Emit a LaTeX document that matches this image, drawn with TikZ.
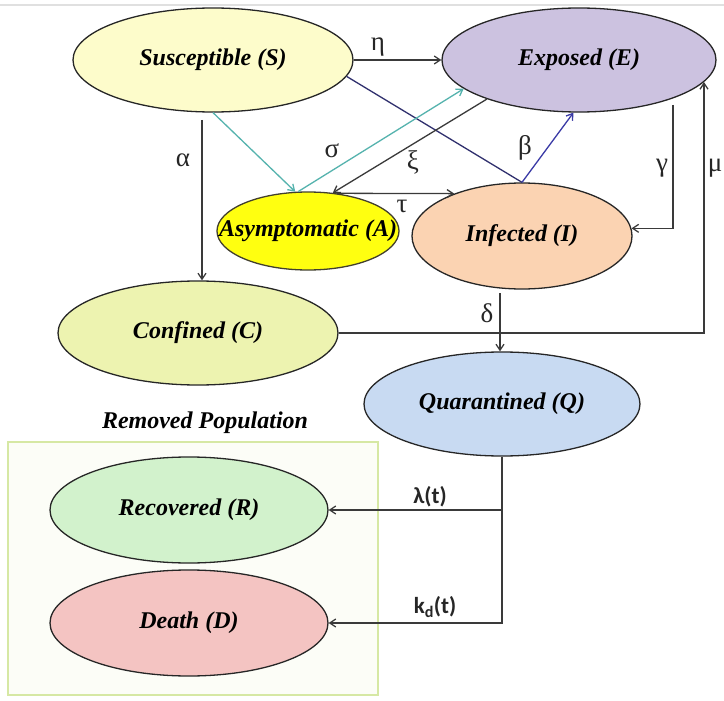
\documentclass[tikz,border=0pt]{standalone}
\usepackage{fontspec}
\setmainfont{Liberation Serif}
\newfontfamily\calfont{Carlito}
\usetikzlibrary{shapes.geometric,arrows.meta}
\definecolor{cS}{HTML}{FDFCCB}
\definecolor{cE}{HTML}{CCC2E0}
\definecolor{cA}{HTML}{FFFF10}
\definecolor{cI}{HTML}{FBD3B2}
\definecolor{cC}{HTML}{EDF3B0}
\definecolor{cQ}{HTML}{C8DAF2}
\definecolor{cR}{HTML}{D2F2CC}
\definecolor{cD}{HTML}{F4C4C2}
\definecolor{boxgreen}{HTML}{D6E8A4}
\definecolor{boxfill}{HTML}{FCFDF7}
\definecolor{navyline}{HTML}{30306E}
\definecolor{blueline}{HTML}{3A3AA6}
\definecolor{tealline}{HTML}{55B3AE}
\definecolor{lineblack}{HTML}{3A3A3A}
\begin{document}
\begin{tikzpicture}[x=1pt,y=-1pt,
  comp/.style={ellipse, draw=black!85, line width=1.3pt, inner sep=0pt,
    font=\fontsize{24}{26}\selectfont\bfseries\itshape},
  arr/.style={line width=1.3pt, draw=lineblack, -{Straight Barb[length=6pt,width=8pt]}},
  lbl/.style={font=\fontsize{27}{29}\selectfont, inner sep=0pt, text=black!85},
  clbl/.style={font=\calfont\fontsize{23}{26}\selectfont\bfseries, inner sep=0pt, text=black!85}]
\useasboundingbox (0,0) rectangle (724,701);
\fill[white] (0,0) rectangle (724,701);
\draw[black!12, line width=1.2pt] (0,5) -- (724,5);
% removed population box
\node (box) [draw=boxgreen, fill=boxfill, line width=2.5pt, minimum width=370, minimum height=253, inner sep=0pt] at (193,568.5) {};
\node (rem) [font=\fontsize{24}{26}\selectfont\bfseries\itshape, inner sep=0pt] at (205,423) {Removed Population};
% compartments
\node[comp, fill=cS, minimum width=280, minimum height=104] (S) at (213,60) {Susceptible (S)};
\node[comp, fill=cE, minimum width=274, minimum height=104] (E) at (579,60) {Exposed (E)};
\node[comp, fill=cA, draw=black!70!olive, minimum width=182, minimum height=78] (A) at (308,231) {\makebox[0pt]{Asymptomatic (A)}};
\node[comp, fill=cI, minimum width=220, minimum height=106] (I) at (522,236) {Infected (I)};
\node[comp, fill=cC, minimum width=280, minimum height=104] (C) at (198,333) {Confined (C)};
\node[comp, fill=cQ, minimum width=276, minimum height=104] (Q) at (502,404) {Quarantined (Q)};
\node[comp, fill=cR, minimum width=278, minimum height=106] (R) at (189,510) {Recovered (R)};
\node[comp, fill=cD, minimum width=278, minimum height=106] (D) at (189,623) {Death (D)};
% connectors
\draw[arr] (S.east) -- (E.west);
\draw[line width=1.3pt, navyline] (S.-7) -- (I.north);
\draw[arr, draw=blueline] (I.north) -- (E.-96);
\draw[arr, draw=tealline] (S.south) -- (A.108);
\draw[arr, draw=tealline] (A.104) -- (E.194);
\draw[arr] (E.203) -- (A.57);
\draw[arr] (A.53) -- (I.148);
\coordinate (atop) at (202,120);
\draw[arr] (atop) -- (atop |- C.north);
\coordinate (gtop) at (673,105);
\draw[arr] (gtop) |- (I.4);
\draw[arr] (C.east) -| (E.-10.6);
\coordinate (dtop) at (500,293);
\draw[arr] (dtop) -- (dtop |- Q.north);
\draw[arr] (Q.south) |- (D.east);
\draw[arr] (Q.south |- R.east) -- (R.east);
% rate labels
\node[lbl] (leta) at (378,47) {η};
\node[lbl] (lalpha) at (183,160) {α};
\node[lbl] (lsigma) at (332,151) {σ};
\node[lbl] (lxi) at (413,162) {ξ};
\node[lbl] (lbeta) at (525,148) {β};
\node[lbl] (ltau) at (402,206) {τ};
\node[lbl] (lgamma) at (662,168) {γ};
\node[lbl] (lmu) at (715,168) {μ};
\node[lbl] (ldelta) at (487,313) {δ};
\node[clbl] (llambda) at (430,497) {λ(t)};
\node[clbl] (lkd) at (435,607) {k\textsubscript{d}(t)};
\end{tikzpicture}
\end{document}
